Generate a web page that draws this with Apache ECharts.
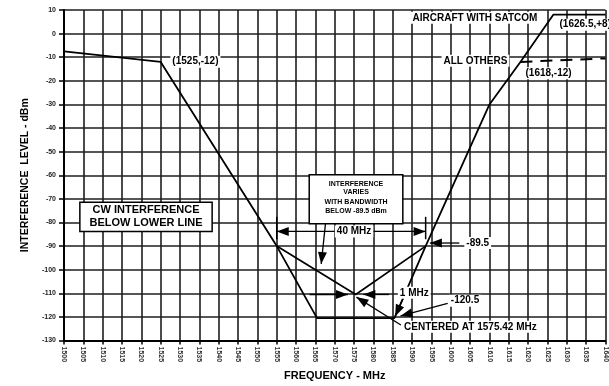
<!DOCTYPE html>
<html><head><meta charset="utf-8">
<script src="https://cdn.jsdelivr.net/npm/echarts@6/dist/echarts.min.js"></script>
<style>html,body{margin:0;padding:0;background:#fff}#c{width:609px;height:386px}</style>
</head><body><div id="c"></div>
<script>
// ---- data ----
const maskFreq  = [1500, 1525, 1555, 1565.42, 1585.42, 1593.5, 1610, 1618, 1626.5, 1640];
const maskLevel = [-7.5, -12, -90, -120.5, -120.5, -90, -30, -12, 8, 8];
const bwFreq  = [1555, 1575.42, 1593.5];
const bwLevel = [-90, -110.5, -90];
const othersFreq  = [1618, 1640];
const othersLevel = [-12, -10.5];
const xMin = 1500, xMax = 1640, xStep = 5;
const yMin = -130, yMax = 10, yStep = 10;

const FONT = '"Liberation Sans", Arial, sans-serif';
const zip = (a, b) => a.map((v, i) => [v, b[i]]);

const chart = echarts.init(document.getElementById('c'), null, {renderer: 'canvas'});
chart.setOption({
  animation: false,
  backgroundColor: '#fff',
  grid: {left: 64, right: 0, top: 10, bottom: 37},
  xAxis: {
    type: 'value', min: xMin, max: xMax, interval: xStep,
    name: 'FREQUENCY - MHz', nameLocation: 'middle', nameGap: 25,
    nameTextStyle: {fontFamily: FONT, fontWeight: 'bold', fontSize: 11, color: '#000'},
    axisLine: {show: true, onZero: false, lineStyle: {color: '#000', width: 2}},
    axisTick: {show: true, length: 4, lineStyle: {color: '#000', width: 1.5}},
    axisLabel: {interval: 0, rotate: -90, margin: 6, fontFamily: FONT, fontWeight: 'bold', fontSize: 7, color: '#333',
      showMaxLabel: true, showMinLabel: true, hideOverlap: false, formatter: v => String(v)},
    splitLine: {show: true, lineStyle: {color: '#1e1e1e', width: 1.6}}
  },
  yAxis: {
    type: 'value', min: yMin, max: yMax, interval: yStep,
    name: 'INTERFERENCE  LEVEL - dBm', nameLocation: 'middle', nameGap: 31,
    nameTextStyle: {fontFamily: FONT, fontWeight: 'bold', fontSize: 10.5, color: '#000'},
    axisLine: {show: true, onZero: false, lineStyle: {color: '#000', width: 2}},
    axisTick: {show: true, length: 5, lineStyle: {color: '#000', width: 1.5}},
    axisLabel: {margin: 8, fontFamily: FONT, fontWeight: 'bold', fontSize: 7, color: '#222', formatter: v => String(v)},
    splitLine: {show: true, lineStyle: {color: '#1e1e1e', width: 1.6}}
  },
  series: [
    {type: 'line', data: zip(maskFreq, maskLevel), symbol: 'none', z: 5,
     lineStyle: {color: '#000', width: 1.8}},
    {type: 'line', data: zip(bwFreq, bwLevel), symbol: 'none', z: 5,
     lineStyle: {color: '#000', width: 1.7}},
    {type: 'line', data: zip(othersFreq, othersLevel), symbol: 'none', z: 5,
     lineStyle: {color: '#000', width: 2, type: [12, 8]}}
  ]
});

// ---- annotations, anchored in data coordinates ----
const P = (f, v) => chart.convertToPixel({xAxisIndex: 0, yAxisIndex: 0}, [f, v]);
const G = [];
function txt(f, v, s, size, align, bg) {
  const p = P(f, v);
  G.push({type: 'text', z: 120, x: p[0], y: p[1], style: {
    text: s, font: 'bold ' + size + 'px ' + FONT, fill: '#000',
    align: align || 'left', verticalAlign: 'middle', textAlign: align || 'left', textVerticalAlign: 'middle',
    backgroundColor: bg === false ? null : '#fff', padding: bg === false ? 0 : [1, 2]}});
}
function seg(f1, v1, f2, v2, w) {
  const a = P(f1, v1), b = P(f2, v2);
  G.push({type: 'line', z: 110, shape: {x1: a[0], y1: a[1], x2: b[0], y2: b[1]},
    style: {stroke: '#000', lineWidth: w || 1.3}});
}
function arrow(f1, v1, f2, v2) { // tail -> tip
  const a = P(f1, v1), b = P(f2, v2);
  seg(f1, v1, f2, v2);
  const dx = b[0] - a[0], dy = b[1] - a[1], L = Math.hypot(dx, dy) || 1;
  const ux = dx / L, uy = dy / L, len = 12, hw = 4.5;
  const bx = b[0] - ux * len, by = b[1] - uy * len;
  G.push({type: 'polygon', z: 111, shape: {points: [[b[0], b[1]], [bx - uy * hw, by + ux * hw], [bx + uy * hw, by - ux * hw]]},
    style: {fill: '#000'}});
}
function box(f1, v1, f2, v2) {
  const a = P(f1, v1), b = P(f2, v2);
  G.push({type: 'rect', z: 105, shape: {x: a[0], y: a[1], width: b[0] - a[0], height: b[1] - a[1]},
    style: {fill: '#fff', stroke: '#000', lineWidth: 1.5}});
}

txt(1527.5, -11.9, '(1525,-12)', 10);
txt(1589.6, 6.7, 'AIRCRAFT WITH SATCOM', 10);
txt(1627.6, 3.8, '(1626.5,+8)', 10);
txt(1597.6, -11.5, 'ALL OTHERS', 10);
txt(1618.8, -16.8, '(1618,-12)', 10);

// CW box
box(1504.1, -71.4, 1538.3, -83.8);
txt(1521.2, -74.5, 'CW INTERFERENCE', 11, 'center', false);
txt(1521.2, -80.4, 'BELOW LOWER LINE', 11, 'center', false);

// bandwidth box
box(1563.4, -59.8, 1587.6, -80.5);
txt(1575.5, -63.6, 'INTERFERENCE', 7, 'center', false);
txt(1575.5, -67.3, 'VARIES', 7, 'center', false);
txt(1575.5, -71.3, 'WITH BANDWIDTH', 7, 'center', false);
txt(1575.5, -75.0, 'BELOW -89.5 dBm', 7, 'center', false);

// 40 MHz dimension
seg(1555, -77.6, 1555, -87.1, 1.5);
seg(1593.5, -77.6, 1593.5, -87.1, 1.5);
arrow(1575, -83.8, 1555, -83.8);
arrow(1575, -83.8, 1593.5, -83.8);
txt(1575, -83.8, '40 MHz', 10, 'center');

// -89.5
arrow(1602.2, -88.7, 1594.6, -88.7);
txt(1603.5, -88.7, '-89.5', 10);

// down arrow from box
arrow(1567.6, -80.5, 1566.5, -97.6);

// 1 MHz
arrow(1563.5, -110.5, 1573.4, -110.5);
arrow(1584, -110.5, 1577.4, -110.5);
arrow(1587.8, -111.8, 1585.6, -119.8);
txt(1586.3, -109.8, '1 MHz', 10);

// -120.5
arrow(1599.2, -114.3, 1587.0, -119.6);
txt(1599.5, -113.1, '-120.5', 10);

// centered at
arrow(1587.1, -123.4, 1575.6, -111.6);
txt(1587.4, -124.2, 'CENTERED AT 1575.42 MHz', 10);

chart.setOption({graphic: G});
</script></body></html>
